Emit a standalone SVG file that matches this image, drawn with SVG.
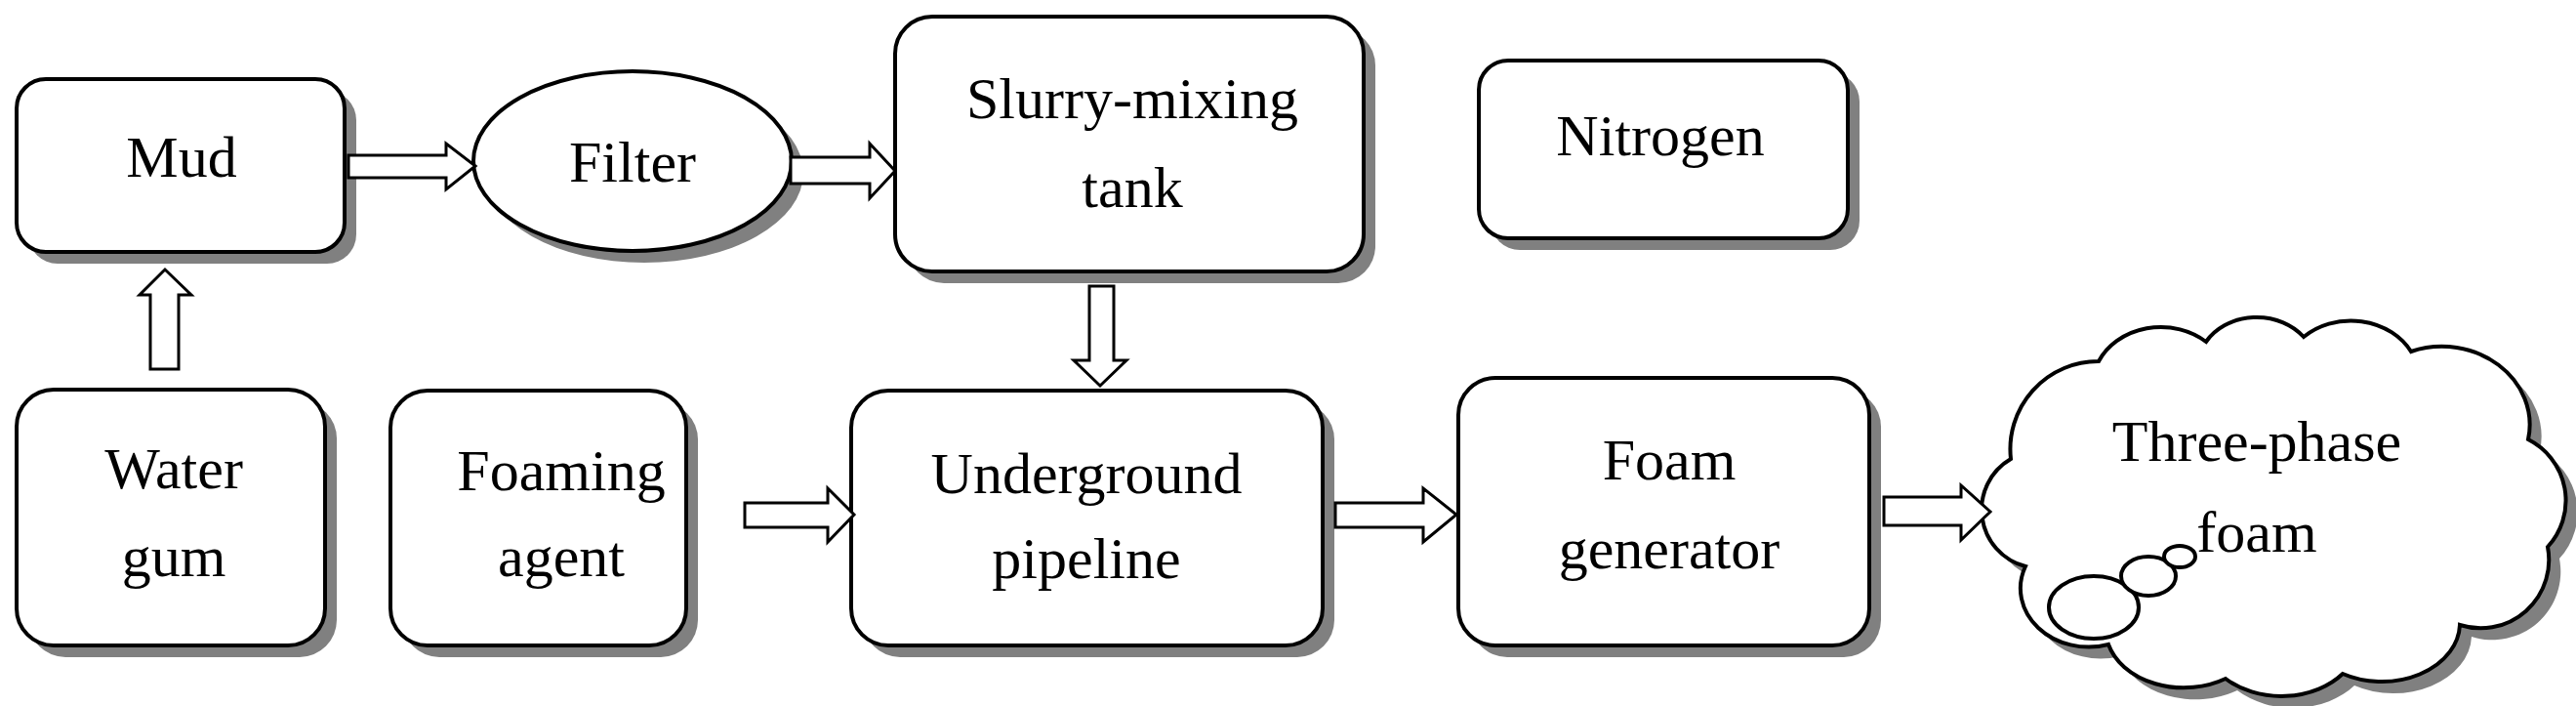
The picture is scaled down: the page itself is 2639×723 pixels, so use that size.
<svg xmlns="http://www.w3.org/2000/svg" width="2639" height="723" viewBox="0 0 2639 723">
<style>
.b{fill:#fff;stroke:#000;stroke-width:4}
.s{fill:#808080}
.a{fill:#fff;stroke:#000;stroke-width:3;stroke-linejoin:miter}
text{font-family:"Liberation Serif","Times New Roman",serif;font-size:60px;text-anchor:middle;fill:#000}
</style>
<defs>
<path id="cloud" d="M2075,580 A60,60 0 0 1 2060,470 A90,90 0 0 1 2150,370 A70,60 0 0 1 2260,350 A60,50 0 0 1 2360,345 A70,60 0 0 1 2470,360 A90,80 0 0 1 2590,450 A70,70 0 0 1 2610,560 A70,70 0 0 1 2520,640 A80,60 0 0 1 2400,690 A80,60 0 0 1 2280,695 A80,60 0 0 1 2160,660 A70,60 0 0 1 2075,580 Z"/>
</defs>
<g id="mud"><rect class="s" x="29" y="93" width="336" height="177" rx="30"/><rect class="b" x="17" y="81" width="336" height="177" rx="30"/><text x="186" y="181">Mud</text></g>
<g id="filter"><ellipse class="s" cx="660" cy="177" rx="163" ry="92"/><ellipse class="b" cx="648" cy="165" rx="163" ry="92"/><text x="648" y="186">Filter</text></g>
<g id="slurry"><rect class="s" x="929" y="29" width="480" height="261" rx="38"/><rect class="b" x="917" y="17" width="480" height="261" rx="38"/><text x="1160" y="121">Slurry-mixing</text><text x="1160" y="212">tank</text></g>
<g id="nitrogen"><rect class="s" x="1527" y="74" width="378" height="182" rx="30"/><rect class="b" x="1515" y="62" width="378" height="182" rx="30"/><text x="1701" y="159">Nitrogen</text></g>
<g id="water"><rect class="s" x="29" y="411" width="316" height="262" rx="38"/><rect class="b" x="17" y="399" width="316" height="262" rx="38"/><text x="178" y="500">Water</text><text x="178" y="590">gum</text></g>
<g id="foaming"><rect class="s" x="412" y="412" width="303" height="261" rx="38"/><rect class="b" x="400" y="400" width="303" height="261" rx="38"/><text x="575" y="502">Foaming</text><text x="575" y="590">agent</text></g>
<g id="underground"><rect class="s" x="884" y="412" width="483" height="261" rx="38"/><rect class="b" x="872" y="400" width="483" height="261" rx="38"/><text x="1113" y="505">Underground</text><text x="1113" y="592">pipeline</text></g>
<g id="foamgen"><rect class="s" x="1506" y="399" width="421" height="274" rx="38"/><rect class="b" x="1494" y="387" width="421" height="274" rx="38"/><text x="1710" y="491">Foam</text><text x="1710" y="582">generator</text></g>
<g id="threephase">
<use href="#cloud" class="s" transform="translate(12,12)"/>
<use href="#cloud" class="b"/>
<ellipse class="b" cx="2145" cy="622" rx="46" ry="32"/>
<ellipse class="b" cx="2201" cy="590" rx="28" ry="20"/>
<ellipse class="b" cx="2233" cy="570" rx="16" ry="11"/>
<text x="2312" y="472">Three-phase</text><text x="2312" y="565">foam</text></g>
<g id="connectors">
<path class="a" d="M357,159 H457 V147 L487,170 L457,194 V182 H357 Z"/>
<path class="a" d="M810,161 H891 V147 L917,175 L891,203 V188 H810 Z"/>
<path class="a" d="M154,378 V302 H143 L169,276 L196,302 H183 V378 Z"/>
<path class="a" d="M1116,293 V369 H1100 L1127,395 L1154,369 H1141 V293 Z"/>
<path class="a" d="M763,515 H848 V500 L875,527 L848,555 V540 H763 Z"/>
<path class="a" d="M1368,515 H1458 V500 L1492,527 L1458,555 V540 H1368 Z"/>
<path class="a" d="M1930,509 H2009 V497 L2039,524 L2009,553 V538 H1930 Z"/>
</g>
</svg>
